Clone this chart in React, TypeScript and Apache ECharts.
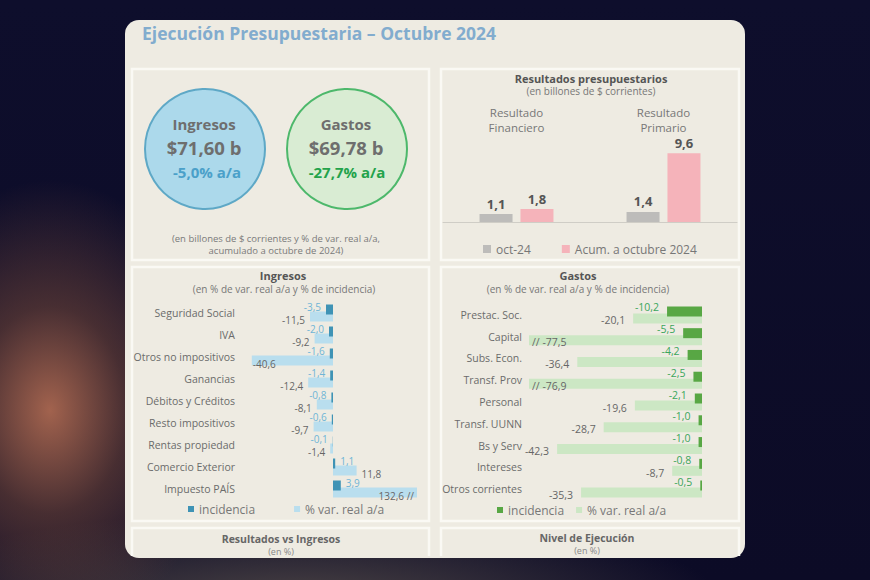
import React, { useEffect, useRef } from 'react';
import * as echarts from 'echarts';

const resultCategories = ['Resultado Financiero', 'Resultado Primario'];
const resultOct = [1.1, 1.4];
const resultAcum = [1.8, 9.6];

const ingCategories = ['Seguridad Social', 'IVA', 'Otros no impositivos', 'Ganancias', 'Débitos y Créditos', 'Resto impositivos', 'Rentas propiedad', 'Comercio Exterior', 'Impuesto PAÍS'];
const ingIncidencia = [-3.5, -2.0, -1.6, -1.4, -0.8, -0.6, -0.1, 1.1, 3.9];
const ingVariacion = [-11.5, -9.2, -40.6, -12.4, -8.1, -9.7, -1.4, 11.8, 132.6];

const gasCategories = ['Prestac. Soc.', 'Capital', 'Subs. Econ.', 'Transf. Prov', 'Personal', 'Transf. UUNN', 'Bs y Serv', 'Intereses', 'Otros corrientes'];
const gasIncidencia = [-10.2, -5.5, -4.2, -2.5, -2.1, -1.0, -1.0, -0.8, -0.5];
const gasVariacion = [-20.1, -77.5, -36.4, -76.9, -19.6, -28.7, -42.3, -8.7, -35.3];

const FONT = 'Open Sans';
const fmt = (v: number) => v.toFixed(1).replace('.', ',');

const ING_MIN = -45;
const ING_MAX = 42;
const GAS_MIN = -50.5;

const legendNames: Record<string, string> = {
  oct: 'oct-24',
  acum: 'Acum. a octubre 2024',
  ing_inc: 'incidencia',
  ing_var: '% var. real a/a',
  gas_inc: 'incidencia',
  gas_var: '% var. real a/a',
};

function txt(x: number, y: number, text: string, fontSize: number, fill: string, fontWeight: any = 'normal', align = 'center') {
  return {
    type: 'text',
    x,
    y,
    z: 1,
    style: { text, fontSize, fill, fontWeight, fontFamily: FONT, align, verticalAlign: 'middle', lineHeight: fontSize },
  };
}

function panel(x: number, y: number, w: number, h: number) {
  return {
    type: 'rect',
    z: 0,
    shape: { x, y, width: w, height: h },
    style: { fill: 'none', stroke: '#faf9f4', lineWidth: 2.5 },
  };
}

function openPanel(x: number, y: number, w: number, bottom: number) {
  return {
    type: 'polyline',
    z: 0,
    shape: { points: [[x, bottom], [x, y], [x + w, y], [x + w, bottom]] },
    style: { fill: 'none', stroke: '#faf9f4', lineWidth: 2.5 },
  };
}

export default function App() {
  const ref = useRef<HTMLDivElement>(null);
  useEffect(() => {
    if (!ref.current) return;
    const chart = echarts.init(ref.current, undefined, { renderer: 'svg' });

    const ingVarData = ingVariacion.map((v) => ({
      value: v,
      label: v > ING_MAX
        ? { position: 'insideRight', formatter: fmt(v) + ' //', distance: 3 }
        : v < -30
          ? { position: 'insideLeft', distance: 1 }
          : { position: v < 0 ? 'left' : 'right' },
    }));
    const ingIncData = ingIncidencia.map((v) => ({
      value: v,
      label: { position: v < 0 ? 'left' : 'right' },
    }));
    const gasVarData = gasVariacion.map((v) => ({
      value: v,
      label: v < GAS_MIN
        ? { position: 'insideLeft', formatter: '// ' + fmt(v), distance: 3 }
        : { position: 'left' },
    }));
    const gasIncData = gasIncidencia.map((v) => ({
      value: v,
      label: { position: v < 0 ? 'left' : 'right' },
    }));

    const legendText = { fontSize: 12, color: '#777777', fontFamily: FONT };
    const headLabel = { margin: 3, fontSize: 11.5, color: '#777777', fontFamily: FONT };

    const option: any = {
      animation: false,
      textStyle: { fontFamily: FONT },
      graphic: {
        elements: [
          {
            type: 'rect',
            z: -1,
            shape: { x: 125, y: 20, width: 620, height: 538, r: 14 },
            style: { fill: '#eeebe2' },
          },
          txt(142, 33, 'Ejecución Presupuestaria – Octubre 2024', 17.5, '#82acce', 'bold', 'left'),
          panel(132, 69, 297, 191),
          panel(441, 69, 298, 191),
          panel(132, 267, 297, 254),
          panel(441, 267, 298, 254),
          openPanel(132, 528, 297, 556),
          openPanel(441, 528, 298, 556),
          {
            type: 'circle',
            z: 1,
            shape: { cx: 205, cy: 149, r: 60 },
            style: { fill: '#acd9eb', stroke: '#5ea8c6', lineWidth: 2 },
          },
          {
            type: 'circle',
            z: 1,
            shape: { cx: 347, cy: 149, r: 60 },
            style: { fill: '#d9ecd3', stroke: '#4db86b', lineWidth: 2 },
          },
          txt(204, 124, 'Ingresos', 15, '#6e6e6e', 'bold'),
          txt(204, 147, '$71,60 b', 18.5, '#6e6e6e', 'bold'),
          txt(207, 172, '-5,0% a/a', 15, '#4aa0c9', 'bold'),
          txt(346, 124, 'Gastos', 15, '#6e6e6e', 'bold'),
          txt(346, 147, '$69,78 b', 18.5, '#6e6e6e', 'bold'),
          txt(347, 172, '-27,7% a/a', 15, '#23a34b', 'bold'),
          txt(276, 238.5, '(en billones de $ corrientes y % de var. real a/a,', 9.5, '#7a7a7a'),
          txt(276, 250, 'acumulado a octubre de 2024)', 9.5, '#7a7a7a'),
          txt(591, 78, 'Resultados presupuestarios', 11, '#555555', 'bold'),
          txt(591, 91, '(en billones de $ corrientes)', 10, '#777777'),
          txt(283, 275.5, 'Ingresos', 11, '#555555', 'bold'),
          txt(284, 288.5, '(en % de var. real a/a y % de incidencia)', 10, '#777777'),
          txt(578, 275.5, 'Gastos', 11, '#555555', 'bold'),
          txt(578, 288.5, '(en % de var. real a/a y % de incidencia)', 10, '#777777'),
          txt(281, 539, 'Resultados vs Ingresos', 10.5, '#666666', 'bold'),
          txt(281, 551.5, '(en %)', 9, '#888888'),
          txt(587, 538, 'Nivel de Ejecución', 10.5, '#666666', 'bold'),
          txt(587, 550.5, '(en %)', 9, '#888888'),
        ],
      },
      legend: [
        {
          data: ['oct', 'acum'],
          left: 478,
          top: 238,
          icon: 'rect',
          itemWidth: 8,
          itemHeight: 8,
          itemGap: 31,
          selectedMode: false,
          formatter: (n: string) => legendNames[n],
          textStyle: legendText,
        },
        {
          data: ['ing_inc', 'ing_var'],
          left: 183,
          top: 498,
          icon: 'rect',
          itemWidth: 6,
          itemHeight: 6,
          itemGap: 39,
          selectedMode: false,
          formatter: (n: string) => legendNames[n],
          textStyle: legendText,
        },
        {
          data: ['gas_inc', 'gas_var'],
          left: 492,
          top: 499,
          icon: 'rect',
          itemWidth: 6,
          itemHeight: 6,
          itemGap: 12,
          selectedMode: false,
          formatter: (n: string) => legendNames[n],
          textStyle: legendText,
        },
      ],
      grid: [
        { left: 443, top: 136, width: 294, height: 86 },
        { left: 243, top: 302, width: 174, height: 198 },
        { left: 529, top: 304, width: 173, height: 196 },
      ],
      xAxis: [
        {
          gridIndex: 0,
          type: 'category',
          data: resultCategories,
          axisLine: { lineStyle: { color: '#cfcdc6', width: 1 } },
          axisTick: { show: false },
          axisLabel: { show: false },
        },
        {
          gridIndex: 0,
          type: 'category',
          position: 'top',
          data: resultCategories,
          axisLine: { show: false },
          axisTick: { show: false },
          axisLabel: { ...headLabel, formatter: (v: string) => v.split(' ').slice(1).join(' ') },
        },
        {
          gridIndex: 0,
          type: 'category',
          position: 'top',
          offset: 15,
          data: resultCategories,
          axisLine: { show: false },
          axisTick: { show: false },
          axisLabel: { ...headLabel, formatter: (v: string) => v.split(' ')[0] },
        },
        {
          gridIndex: 1,
          type: 'value',
          min: ING_MIN,
          max: ING_MAX,
          show: false,
          splitLine: { show: false },
        },
        {
          gridIndex: 2,
          type: 'value',
          min: GAS_MIN,
          max: 0,
          show: false,
          splitLine: { show: false },
        },
      ],
      yAxis: [
        { gridIndex: 0, type: 'value', min: 0, max: 12, show: false, splitLine: { show: false } },
        {
          gridIndex: 1,
          type: 'category',
          inverse: true,
          data: ingCategories,
          axisLine: { show: false },
          axisTick: { show: false },
          axisLabel: { margin: 8, fontSize: 10.5, color: '#6b6b6b', fontFamily: FONT },
        },
        {
          gridIndex: 2,
          type: 'category',
          inverse: true,
          data: gasCategories,
          axisLine: { show: false },
          axisTick: { show: false },
          axisLabel: { margin: 7, fontSize: 10.5, color: '#6b6b6b', fontFamily: FONT },
        },
      ],
      series: [
        {
          name: 'oct',
          type: 'bar',
          xAxisIndex: 0,
          yAxisIndex: 0,
          data: resultOct,
          barWidth: 33,
          barGap: '24%',
          itemStyle: { color: '#bdbcba' },
          label: { show: true, position: 'top', distance: 4, fontSize: 13, fontWeight: 'bold', color: '#555555', formatter: (p: any) => fmt(p.value) },
        },
        {
          name: 'acum',
          type: 'bar',
          xAxisIndex: 0,
          yAxisIndex: 0,
          data: resultAcum,
          barWidth: 33,
          barGap: '24%',
          itemStyle: { color: '#f5b3ba' },
          label: { show: true, position: 'top', distance: 4, fontSize: 13, fontWeight: 'bold', color: '#555555', formatter: (p: any) => fmt(p.value) },
        },
        {
          name: 'ing_inc',
          type: 'bar',
          xAxisIndex: 3,
          yAxisIndex: 1,
          data: ingIncData,
          barWidth: 10,
          barGap: '-30%',
          clip: true,
          z: 3,
          itemStyle: { color: '#3f93b5' },
          label: { show: true, distance: 5, fontSize: 10, color: '#6fb5d6', offset: [0, -3], formatter: (p: any) => fmt(p.value) },
        },
        {
          name: 'ing_var',
          type: 'bar',
          xAxisIndex: 3,
          yAxisIndex: 1,
          data: ingVarData,
          barWidth: 10,
          barGap: '-30%',
          clip: true,
          z: 2,
          itemStyle: { color: '#b9deee' },
          label: { show: true, distance: 5, fontSize: 10, color: '#666666', offset: [0, 3], formatter: (p: any) => fmt(p.value) },
        },
        {
          name: 'gas_inc',
          type: 'bar',
          xAxisIndex: 4,
          yAxisIndex: 2,
          data: gasIncData,
          barWidth: 10,
          barGap: '-30%',
          clip: true,
          z: 3,
          itemStyle: { color: '#58a744' },
          label: { show: true, distance: 8, fontSize: 10.5, color: '#3aa65a', offset: [0, -4], formatter: (p: any) => fmt(p.value) },
        },
        {
          name: 'gas_var',
          type: 'bar',
          xAxisIndex: 4,
          yAxisIndex: 2,
          data: gasVarData,
          barWidth: 10,
          barGap: '-30%',
          clip: true,
          z: 2,
          itemStyle: { color: '#cce7c4' },
          label: { show: true, distance: 8, fontSize: 10.5, color: '#666666', offset: [0, 2], formatter: (p: any) => fmt(p.value) },
        },
      ],
    };

    chart.setOption(option);
    return () => chart.dispose();
  }, []);

  return (
    <div
      style={{
        position: 'fixed',
        left: 0,
        top: 0,
        width: 870,
        height: 580,
        overflow: 'hidden',
        background:
          'radial-gradient(ellipse 170px 230px at 50px 410px, rgba(178,108,82,0.9) 0%, rgba(120,74,58,0.55) 45%, rgba(30,20,30,0) 100%), radial-gradient(ellipse 420px 90px at 300px 600px, rgba(95,85,78,0.75) 0%, rgba(40,35,40,0) 100%), linear-gradient(180deg, #0e0e2c 0%, #0c0b26 100%)',
      }}
    >
      <div ref={ref} style={{ width: 870, height: 580 }} />
    </div>
  );
}
